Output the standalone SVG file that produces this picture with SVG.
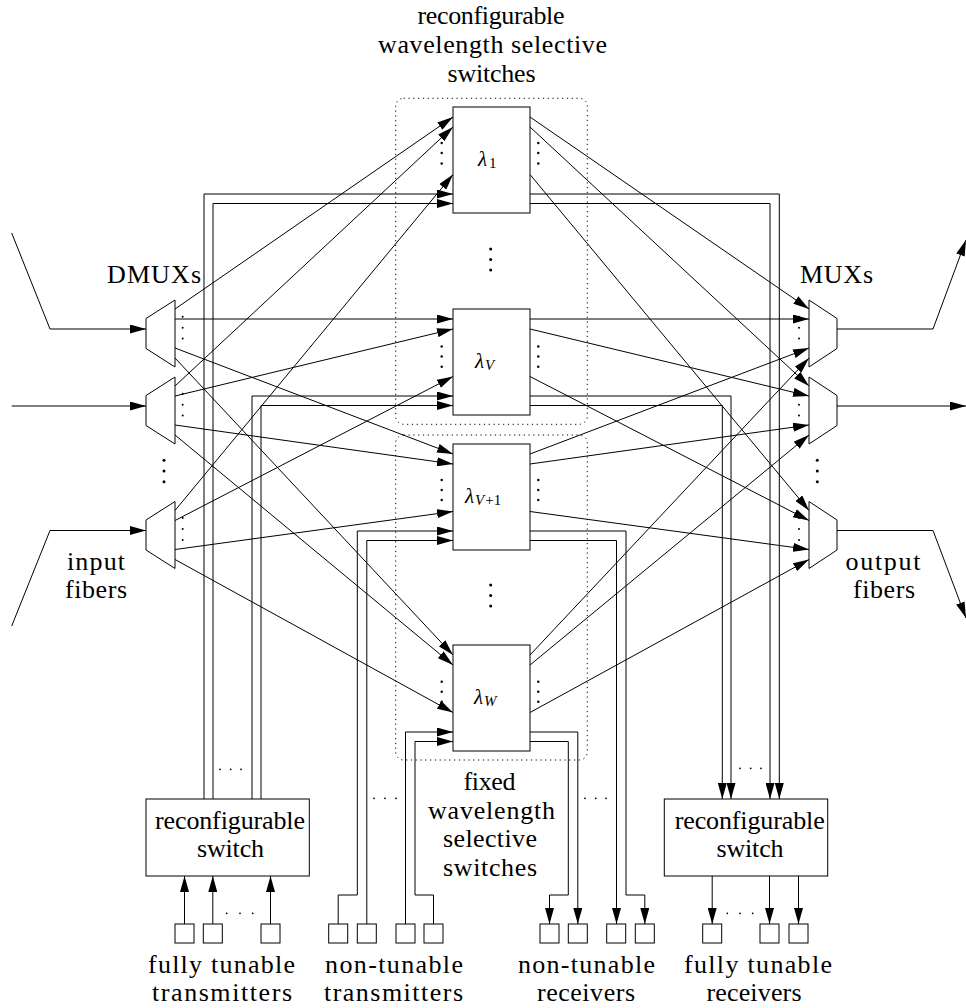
<svg xmlns="http://www.w3.org/2000/svg" width="966" height="1008" viewBox="0 0 966 1008">
<defs>
<marker id="ah" markerUnits="userSpaceOnUse" markerWidth="16" markerHeight="9" refX="16" refY="4.5" orient="auto"><path d="M0,0 L16,4.5 L0,9 z" fill="#000"/></marker>
<style>
.ln{fill:none;stroke:#000;stroke-width:1}
.ar{fill:none;stroke:#000;stroke-width:1;marker-end:url(#ah)}
.bx{fill:#fff;stroke:#000;stroke-width:1}
.sq{fill:#fff;stroke:#000;stroke-width:1}
.grp{fill:none;stroke:#000;stroke-width:1;stroke-dasharray:1.2 3.6}
.t{font-family:'Liberation Serif',serif;font-size:26px;fill:#000;text-anchor:middle}
.lam{font-family:'Liberation Serif',serif;font-size:21px;font-style:italic;fill:#000}
.sub{font-size:15px}
.rm{font-style:normal}
.d{fill:#000}
</style>
</defs>
<rect width="966" height="1008" fill="#fff"/>

<g id="groups">
<rect class="grp" x="395.7" y="98.3" width="191.6" height="326" rx="8"/>
<rect class="grp" x="395.7" y="435" width="191.6" height="325" rx="8"/>
</g>

<g id="connectors">
<!-- input fibers -->
<path class="ar" d="M11.7,233 L50,329 L146,329"/>
<path class="ar" d="M11.7,406 L146,406"/>
<path class="ar" d="M11.7,626 L50,530.5 L146,530.5"/>
<!-- output fibers -->
<path class="ar" d="M837,329 L933,329 L966,240"/>
<path class="ar" d="M837,406 L966,406"/>
<path class="ar" d="M837,530.5 L933,530.5 L966,618"/>
<!-- DMUX to switches -->
<path class="ar" d="M175,309 L453,117"/>
<path class="ar" d="M175,319 L453,319"/>
<path class="ar" d="M175,348 L453,454"/>
<path class="ar" d="M175,358 L453,655"/>
<path class="ar" d="M175,386 L453,127"/>
<path class="ar" d="M175,396 L453,329"/>
<path class="ar" d="M175,425 L453,464"/>
<path class="ar" d="M175,435 L453,665"/>
<path class="ar" d="M175,510.5 L453,174.5"/>
<path class="ar" d="M175,520.5 L453,376.5"/>
<path class="ar" d="M175,549.5 L453,511.5"/>
<path class="ar" d="M175,559.5 L453,712.5"/>
<!-- switches to MUX -->
<path class="ar" d="M530,117 L809,309"/>
<path class="ar" d="M530,127 L809,386"/>
<path class="ar" d="M530,174.5 L809,510.5"/>
<path class="ar" d="M530,319 L809,319"/>
<path class="ar" d="M530,329 L809,396"/>
<path class="ar" d="M530,376.5 L809,520.5"/>
<path class="ar" d="M530,454 L809,348"/>
<path class="ar" d="M530,464 L809,425"/>
<path class="ar" d="M530,511.5 L809,549.5"/>
<path class="ar" d="M530,655 L809,358"/>
<path class="ar" d="M530,665 L809,435"/>
<path class="ar" d="M530,712.5 L809,559.5"/>
<!-- add from reconfigurable switch -->
<path class="ar" d="M204,799 V194 H453"/>
<path class="ar" d="M213,799 V203.5 H453"/>
<path class="ar" d="M252,799 V396 H453"/>
<path class="ar" d="M261,799 V405.5 H453"/>
<!-- add from non-tunable transmitters -->
<path class="ar" d="M338.2,924 V895 H357.3 V531 H453"/>
<path class="ar" d="M366.8,924 V540.5 H453"/>
<path class="ar" d="M405.5,924 V732 H453"/>
<path class="ar" d="M433.5,924 V895 H415 V741.5 H453"/>
<!-- drop to reconfigurable switch -->
<path class="ar" d="M530,194 H779.3 V799"/>
<path class="ar" d="M530,203.5 H770 V799"/>
<path class="ar" d="M530,396 H731 V799"/>
<path class="ar" d="M530,405.5 H722.3 V799"/>
<!-- drop to non-tunable receivers -->
<path class="ar" d="M530,531 H626 V895 H644.8 V924"/>
<path class="ar" d="M530,540.5 H616.5 V924"/>
<path class="ar" d="M530,732 H577.8 V924"/>
<path class="ar" d="M530,741.5 H568.3 V895 H549.5 V924"/>
<!-- tunable tx to switch -->
<path class="ar" d="M184.5,924 V876"/>
<path class="ar" d="M212.8,924 V876"/>
<path class="ar" d="M270.5,924 V876"/>
<!-- switch to tunable rx -->
<path class="ar" d="M712.2,876 V924"/>
<path class="ar" d="M769.5,876 V924"/>
<path class="ar" d="M798.5,876 V924"/>
</g>

<g id="dmux1"><polygon class="bx" points="146,318.5 175,300 175,367 146,348.5"/></g>
<g id="dmux2"><polygon class="bx" points="146,395.5 175,377 175,444 146,425.5"/></g>
<g id="dmux3"><polygon class="bx" points="146,520 175,501.5 175,568.5 146,550"/></g>
<g id="mux1"><polygon class="bx" points="809,300 837,318.5 837,348.5 809,367"/></g>
<g id="mux2"><polygon class="bx" points="809,377 837,395.5 837,425.5 809,444"/></g>
<g id="mux3"><polygon class="bx" points="809,501.5 837,520 837,550 809,568.5"/></g>

<g id="wss1"><rect class="bx" x="453" y="107" width="77" height="106"/>
<text class="lam" x="478" y="166">λ<tspan class="sub rm" dx="2" dy="2">1</tspan></text></g>
<g id="wssV"><rect class="bx" x="453" y="309" width="77" height="106"/>
<text class="lam" x="475" y="368">λ<tspan class="sub" dx="1" dy="2">V</tspan></text></g>
<g id="wssV1"><rect class="bx" x="453" y="444" width="77" height="106"/>
<text class="lam" x="465" y="503">λ<tspan class="sub" dx="1" dy="2">V</tspan><tspan class="sub rm" dx="1">+1</tspan></text></g>
<g id="wssW"><rect class="bx" x="453" y="645" width="77" height="106"/>
<text class="lam" x="474" y="704">λ<tspan class="sub" dx="1" dy="2">W</tspan></text></g>

<g id="switch-tx"><rect class="bx" x="146" y="799" width="163.3" height="77"/>
<text class="t" x="230" y="829" textLength="150">reconfigurable</text>
<text class="t" x="230.5" y="857" textLength="67">switch</text></g>
<g id="switch-rx"><rect class="bx" x="664.3" y="799" width="163.4" height="77"/>
<text class="t" x="749.7" y="829" textLength="150">reconfigurable</text>
<text class="t" x="750" y="857" textLength="67">switch</text></g>

<g id="tx-tunable">
<rect class="sq" x="175" y="924" width="19" height="19"/>
<rect class="sq" x="203.3" y="924" width="19" height="19"/>
<rect class="sq" x="261" y="924" width="19" height="19"/>
</g>
<g id="tx-fixed">
<rect class="sq" x="328.7" y="924" width="19" height="19"/>
<rect class="sq" x="357.3" y="924" width="19" height="19"/>
<rect class="sq" x="396" y="924" width="19" height="19"/>
<rect class="sq" x="424" y="924" width="19" height="19"/>
</g>
<g id="rx-fixed">
<rect class="sq" x="540" y="924" width="19" height="19"/>
<rect class="sq" x="568.3" y="924" width="19" height="19"/>
<rect class="sq" x="606.7" y="924" width="19" height="19"/>
<rect class="sq" x="635.3" y="924" width="19" height="19"/>
</g>
<g id="rx-tunable">
<rect class="sq" x="702.7" y="924" width="19" height="19"/>
<rect class="sq" x="760" y="924" width="19" height="19"/>
<rect class="sq" x="789" y="924" width="19" height="19"/>
</g>

<g id="dots">
<circle class="d" cx="182.7" cy="316.7" r="1"/><circle class="d" cx="182.7" cy="327.7" r="1"/><circle class="d" cx="182.7" cy="338.5" r="1"/>
<circle class="d" cx="182.7" cy="393.7" r="1"/><circle class="d" cx="182.7" cy="404.7" r="1"/><circle class="d" cx="182.7" cy="415.5" r="1"/>
<circle class="d" cx="182.7" cy="518" r="1"/><circle class="d" cx="182.7" cy="529" r="1"/><circle class="d" cx="182.7" cy="540" r="1"/>
<circle class="d" cx="799" cy="316.7" r="1"/><circle class="d" cx="799" cy="327.7" r="1"/><circle class="d" cx="799" cy="338.5" r="1"/>
<circle class="d" cx="799" cy="393.7" r="1"/><circle class="d" cx="799" cy="404.7" r="1"/><circle class="d" cx="799" cy="415.5" r="1"/>
<circle class="d" cx="799" cy="518" r="1"/><circle class="d" cx="799" cy="529" r="1"/><circle class="d" cx="799" cy="540" r="1"/>
<circle class="d" cx="164" cy="460.3" r="1.5"/><circle class="d" cx="164" cy="471" r="1.5"/><circle class="d" cx="164" cy="481.7" r="1.5"/>
<circle class="d" cx="817.3" cy="460.3" r="1.5"/><circle class="d" cx="817.3" cy="471" r="1.5"/><circle class="d" cx="817.3" cy="481.7" r="1.5"/>
<circle class="d" cx="490.7" cy="249" r="1.5"/><circle class="d" cx="490.7" cy="259.5" r="1.5"/><circle class="d" cx="490.7" cy="270" r="1.5"/>
<circle class="d" cx="490.7" cy="585" r="1.5"/><circle class="d" cx="490.7" cy="595.5" r="1.5"/><circle class="d" cx="490.7" cy="606" r="1.5"/>
<circle class="d" cx="441.7" cy="143" r="1.2"/><circle class="d" cx="441.7" cy="153" r="1.2"/><circle class="d" cx="441.7" cy="163.5" r="1.2"/>
<circle class="d" cx="538.3" cy="143" r="1.2"/><circle class="d" cx="538.3" cy="153" r="1.2"/><circle class="d" cx="538.3" cy="163.5" r="1.2"/>
<circle class="d" cx="441.7" cy="346.5" r="1.2"/><circle class="d" cx="441.7" cy="356.5" r="1.2"/><circle class="d" cx="441.7" cy="366.7" r="1.2"/>
<circle class="d" cx="538.3" cy="346.5" r="1.2"/><circle class="d" cx="538.3" cy="356.5" r="1.2"/><circle class="d" cx="538.3" cy="366.7" r="1.2"/>
<circle class="d" cx="441.7" cy="480" r="1.2"/><circle class="d" cx="441.7" cy="490" r="1.2"/><circle class="d" cx="441.7" cy="500" r="1.2"/>
<circle class="d" cx="538.3" cy="480" r="1.2"/><circle class="d" cx="538.3" cy="490" r="1.2"/><circle class="d" cx="538.3" cy="500" r="1.2"/>
<circle class="d" cx="441.7" cy="681.7" r="1.2"/><circle class="d" cx="441.7" cy="691.7" r="1.2"/><circle class="d" cx="441.7" cy="701.7" r="1.2"/>
<circle class="d" cx="538.3" cy="681.7" r="1.2"/><circle class="d" cx="538.3" cy="691.7" r="1.2"/><circle class="d" cx="538.3" cy="701.7" r="1.2"/>
<circle class="d" cx="220" cy="769.3" r="0.9"/><circle class="d" cx="230.7" cy="769.3" r="0.9"/><circle class="d" cx="241" cy="769.3" r="0.9"/>
<circle class="d" cx="226.7" cy="913.3" r="0.9"/><circle class="d" cx="240" cy="913.3" r="0.9"/><circle class="d" cx="252.7" cy="913.3" r="0.9"/>
<circle class="d" cx="374" cy="798.3" r="0.9"/><circle class="d" cx="385" cy="798.3" r="0.9"/><circle class="d" cx="396" cy="798.3" r="0.9"/>
<circle class="d" cx="585" cy="798.3" r="0.9"/><circle class="d" cx="595.7" cy="798.3" r="0.9"/><circle class="d" cx="606" cy="798.3" r="0.9"/>
<circle class="d" cx="740" cy="768.3" r="0.9"/><circle class="d" cx="750.7" cy="768.3" r="0.9"/><circle class="d" cx="761" cy="768.3" r="0.9"/>
<circle class="d" cx="727.3" cy="913.3" r="0.9"/><circle class="d" cx="740" cy="913.3" r="0.9"/><circle class="d" cx="752.7" cy="913.3" r="0.9"/>
</g>

<g id="labels">
<text class="t" x="491" y="24" textLength="147">reconfigurable</text>
<text class="t" x="492.5" y="53" textLength="229">wavelength selective</text>
<text class="t" x="491.5" y="82" textLength="88">switches</text>
<text class="t" x="154" y="283" textLength="94">DMUXs</text>
<text class="t" x="836.5" y="283" textLength="73">MUXs</text>
<text class="t" x="96" y="570" textLength="58">input</text>
<text class="t" x="96" y="598" textLength="62">fibers</text>
<text class="t" x="883" y="570" textLength="75">output</text>
<text class="t" x="884" y="598" textLength="62">fibers</text>
<text class="t" x="489.5" y="790" textLength="52">fixed</text>
<text class="t" x="491.5" y="818.5" textLength="127">wavelength</text>
<text class="t" x="490" y="847" textLength="94">selective</text>
<text class="t" x="490" y="875.5" textLength="94">switches</text>
<text class="t" x="221.5" y="973" textLength="147">fully tunable</text>
<text class="t" x="222" y="1001" textLength="140">transmitters</text>
<text class="t" x="394" y="973" textLength="138">non-tunable</text>
<text class="t" x="393.5" y="1001" textLength="139">transmitters</text>
<text class="t" x="586.5" y="973" textLength="137">non-tunable</text>
<text class="t" x="586" y="1001" textLength="98">receivers</text>
<text class="t" x="758" y="973" textLength="148">fully tunable</text>
<text class="t" x="754" y="1001" textLength="95">receivers</text>
</g>
</svg>
